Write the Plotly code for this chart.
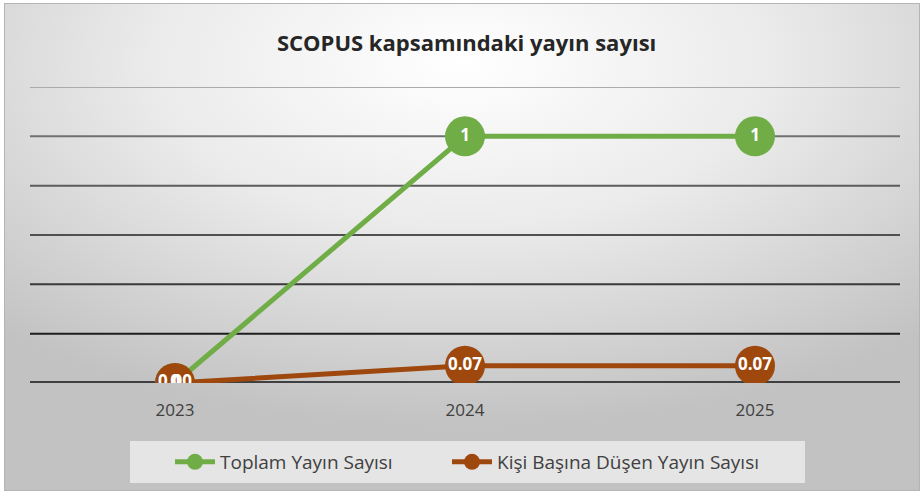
import base64
import plotly.graph_objects as go

# ---- data ----
years = ["2023", "2024", "2025"]
toplam = [0, 1, 1]
kisi_basina = [0.00, 0.07, 0.07]
toplam_labels = ["0", "1", "1"]
kisi_labels = ["0.00", "0.07", "0.07"]
y_ticks = [0, 0.2, 0.4, 0.6, 0.8, 1.0, 1.2]

GREEN = "#70AD47"
BROWN = "#9E480E"
W, H = 924, 495
ML, MR, MT, MB = 30, 24, 87, 112
PW, PH = W - ML - MR, H - MT - MB

svg = f'''<svg xmlns="http://www.w3.org/2000/svg" width="{W}" height="{H}" viewBox="0 0 {W} {H}" preserveAspectRatio="none">
<defs><radialGradient id="g" cx="50%" cy="12%" r="75%" fx="50%" fy="12%">
<stop offset="0" stop-color="#ffffff"/><stop offset="0.45" stop-color="#ebebeb"/><stop offset="1" stop-color="#c2c2c2"/></radialGradient></defs>
<rect x="0" y="0" width="{W}" height="{H}" fill="#ffffff"/>
<rect x="4.5" y="3.5" width="{W-9}" height="{H-8}" fill="url(#g)" stroke="#b4b4b4" stroke-width="1"/>
</svg>'''
src = "data:image/svg+xml;base64," + base64.b64encode(svg.encode()).decode()

fig = go.Figure()

fig.add_trace(go.Scatter(
    x=years, y=toplam, name="Toplam Yayın Sayısı", mode="lines+markers",
    line=dict(color=GREEN, width=5), marker=dict(color=GREEN, size=40),
    hoverinfo="skip", legend="legend"))
fig.add_trace(go.Scatter(
    x=years, y=kisi_basina, name="Kişi Başına Düşen Yayın Sayısı", mode="lines+markers",
    line=dict(color=BROWN, width=5), marker=dict(color=BROWN, size=40),
    hoverinfo="skip", legend="legend2"))
fig.add_trace(go.Scatter(
    x=years, y=toplam, mode="text", text=toplam_labels, showlegend=False,
    textfont=dict(family="Open Sans", size=17, color="white", weight="bold"),
    textposition="middle center", hoverinfo="skip"))
fig.add_trace(go.Scatter(
    x=years, y=kisi_basina, mode="text", text=kisi_labels, showlegend=False,
    textfont=dict(family="Open Sans", size=17, color="white", weight="bold"),
    textposition="middle center", hoverinfo="skip"))

grid_colors = ["#404040", "#1e1e1e", "#3a3a3a", "#505050", "#5c5c5c", "#707070", "#ababab"]
shapes = []
for v, c in zip(y_ticks, grid_colors):
    if v == 0:
        continue
    shapes.append(dict(type="line", xref="x", yref="y", x0=-0.5, x1=2.5, y0=v, y1=v,
                       line=dict(color=c, width=2), layer="below"))
# baseline (axis)
shapes.append(dict(type="line", xref="x", yref="y", x0=-0.5, x1=2.5, y0=0, y1=0,
                   line=dict(color="#404040", width=4), layer="below"))
# legend box
lx0, lx1, ly0, ly1 = 130, 805, 441, 483
shapes.append(dict(type="rect", xref="paper", yref="paper",
                   x0=(lx0 - ML) / PW, x1=(lx1 - ML) / PW,
                   y0=(H - MB - ly1) / PH, y1=(H - MB - ly0) / PH,
                   fillcolor="rgba(240,240,240,0.75)", line=dict(width=0), layer="below"))

leg_common = dict(orientation="h", xanchor="left", y=(H - MB - 462) / PH, yanchor="middle",
                  bgcolor="rgba(0,0,0,0)", font=dict(family="Open Sans", size=19, color="#404040"),
                  itemwidth=40)

fig.update_layout(
    width=W, height=H,
    margin=dict(l=ML, r=MR, t=MT, b=MB),
    paper_bgcolor="rgba(0,0,0,0)", plot_bgcolor="rgba(0,0,0,0)",
    title=dict(text="<b>SCOPUS kapsamındaki yayın sayısı</b>", x=0.505, xanchor="center",
               y=1 - 43 / H, yanchor="middle",
               font=dict(family="Open Sans", size=22, color="#262626")),
    xaxis=dict(type="category", range=[-0.5, 2.5], showgrid=False, zeroline=False,
               showline=False, ticks="", tickfont=dict(family="Open Sans", size=17, color="#404040"),
               ticklabelstandoff=15),
    yaxis=dict(range=[0, 1.2], tickvals=y_ticks, showticklabels=False, showgrid=False,
               zeroline=False, showline=False),
    legend=dict(x=(170 - ML) / PW, **leg_common),
    legend2=dict(x=(447 - ML) / PW, **leg_common),
    shapes=shapes,
    images=[dict(source=src, xref="paper", yref="paper", x=-ML / PW, y=1 + MT / PH,
                 sizex=W / PW, sizey=H / PH, sizing="stretch", layer="below",
                 xanchor="left", yanchor="top")],
    showlegend=True,
)

fig.write_html("out.html", config={"displayModeBar": False},
               post_script="document.body.style.margin='0';")
